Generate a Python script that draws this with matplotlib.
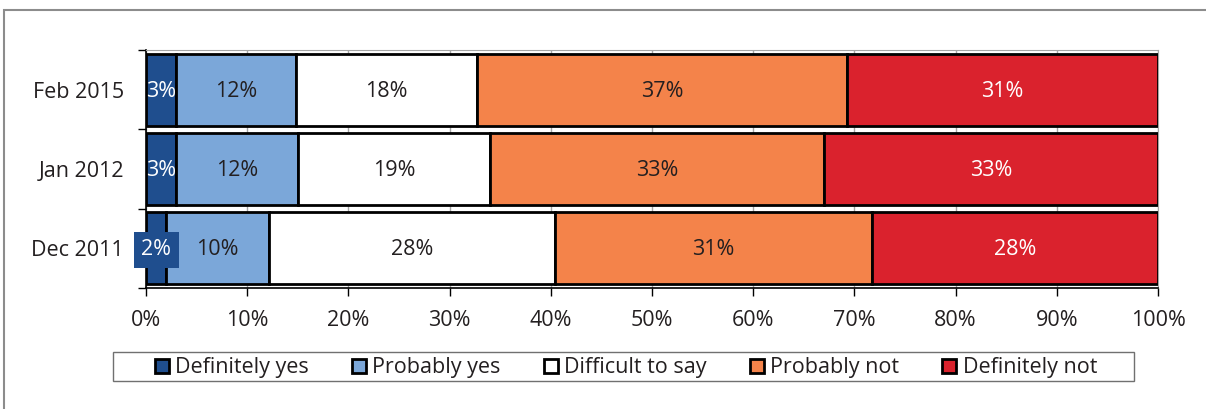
import matplotlib.pyplot as plt
from matplotlib.patches import Rectangle, Patch
import numpy as np

# survey waves, top to bottom
periods = ["Feb 2015", "Jan 2012", "Dec 2011"]
answers = ["Definitely yes", "Probably yes", "Difficult to say", "Probably not", "Definitely not"]

# shares in percent as printed on the chart
definitely_yes = [3, 3, 2]
probably_yes = [12, 12, 10]
difficult = [18, 19, 28]
probably_not = [37, 33, 31]
definitely_not = [31, 33, 28]

colors = ["#1f4e8e", "#7ba7d9", "#ffffff", "#f4834a", "#da222d"]
text_colors = ["white", "#231f20", "#231f20", "#231f20", "white"]

plt.rcParams['font.family'] = ['Open Sans', 'DejaVu Sans']
fs = 15.5

table = np.array([definitely_yes, probably_yes, difficult, probably_not, definitely_not], dtype=float)
# bars are scaled so each row fills 100%
shares = table / table.sum(axis=0) * 100

fig = plt.figure(figsize=(12.06, 4.09), dpi=100)
ax = fig.add_axes([146 / 1206, 1 - 288 / 409, (1158 - 146) / 1206, (288 - 50) / 409])

# outer frame of the figure (partly cut off on the right)
fig.patches.append(Rectangle((4 / 1206, -0.1), 1.2, 1 - 10 / 409 + 0.1, transform=fig.transFigure,
                             fill=False, edgecolor="#8c8c8c", linewidth=1.5, zorder=0))
# legend box, wider than the entries
fig.patches.append(Rectangle((113 / 1206, 1 - 381 / 409), (1134 - 113) / 1206, 29 / 409,
                             transform=fig.transFigure, facecolor="white",
                             edgecolor="#707070", linewidth=1, zorder=1))

y = np.arange(len(periods))
left = np.zeros(len(periods))
for i, name in enumerate(answers):
    ax.barh(y, shares[i], left=left, height=0.91, color=colors[i], edgecolor="black",
            linewidth=2, label=name, zorder=3)
    for j in range(len(periods)):
        cx = left[j] + shares[i][j] / 2
        label = f"{int(table[i][j])}%"
        if i == 0 and table[i][j] < 3:
            ax.text(cx, y[j] + 0.02, label, ha="center", va="center", color="white", fontsize=fs,
                    zorder=5, bbox=dict(boxstyle="square,pad=0.35", facecolor=colors[0], edgecolor="none"))
        else:
            ax.text(cx, y[j] + 0.02, label, ha="center", va="center", color=text_colors[i],
                    fontsize=fs, zorder=5)
    left += shares[i]

ax.set_xlim(0, 100)
ax.set_ylim(2.5, -0.5)
ax.set_yticks(y)
ax.set_yticklabels(periods)
ax.set_yticks([-0.5, 0.5, 1.5, 2.5], minor=True)
ax.tick_params(axis="y", which="major", length=0, pad=16, labelsize=fs, labelcolor="#231f20")
ax.tick_params(axis="y", which="minor", length=6, width=1, direction="out")
ax.set_xticks(np.arange(0, 101, 10))
ax.set_xticklabels([f"{v}%" for v in range(0, 101, 10)])
ax.tick_params(axis="x", length=6, width=1, labelsize=fs, labelcolor="#231f20", pad=10)

ax.grid(True, axis="x", color="#a6a6a6", linewidth=1, zorder=0)
ax.spines["top"].set_color("#a6a6a6")
ax.spines["right"].set_color("#a6a6a6")
ax.spines["left"].set_linewidth(1.2)
ax.spines["bottom"].set_linewidth(1.2)

handles = [Patch(facecolor=c, edgecolor="black", linewidth=2) for c in colors]
leg = fig.legend(handles, answers, loc="center", bbox_to_anchor=(626 / 1206, 1 - 368 / 409),
                 ncol=5, frameon=False, fontsize=fs, handlelength=0.65,
                 handleheight=0.65, handletextpad=0.3, columnspacing=2.0, borderpad=0.15,
                 borderaxespad=0)
for t in leg.get_texts():
    t.set_color("#231f20")

fig.savefig("out.png", dpi=100)
